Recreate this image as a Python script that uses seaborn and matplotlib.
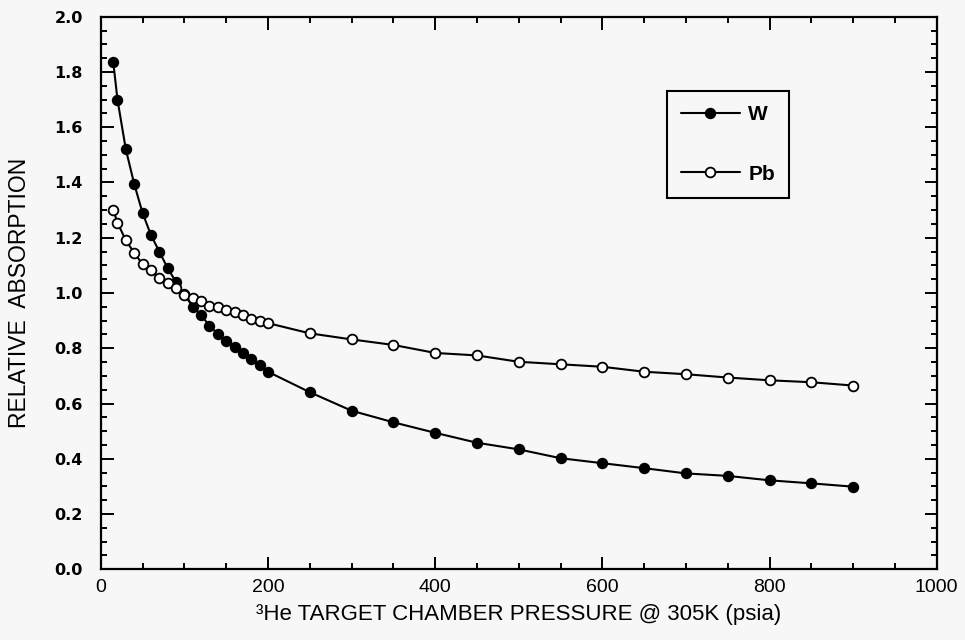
import numpy as np
import pandas as pd
import seaborn as sns
import matplotlib.pyplot as plt
from matplotlib.ticker import MultipleLocator, FormatStrFormatter

# pressure (psia) at which both targets were measured
pressure = [15, 20, 30, 40, 50, 60, 70, 80, 90, 100, 110, 120, 130, 140, 150, 160, 170, 180, 190, 200,
            250, 300, 350, 400, 450, 500, 550, 600, 650, 700, 750, 800, 850, 900]

w_absorption = [1.835, 1.70, 1.52, 1.395, 1.29, 1.21, 1.15, 1.09, 1.04, 0.995, 0.95, 0.92, 0.882, 0.852,
                0.826, 0.806, 0.782, 0.76, 0.739, 0.715,
                0.641, 0.574, 0.532, 0.494, 0.458, 0.434, 0.402, 0.384, 0.366, 0.347, 0.338, 0.322, 0.311, 0.299]

pb_absorption = [1.30, 1.255, 1.19, 1.146, 1.104, 1.083, 1.053, 1.035, 1.017, 0.993, 0.982, 0.972, 0.953,
                 0.948, 0.938, 0.93, 0.92, 0.906, 0.90, 0.891,
                 0.854, 0.832, 0.812, 0.783, 0.774, 0.751, 0.742, 0.733, 0.715, 0.706, 0.694, 0.684, 0.677, 0.665]

df = pd.DataFrame({'pressure': pressure, 'W': w_absorption, 'Pb': pb_absorption})

sns.set_style('ticks')
plt.rcParams['font.family'] = ['Liberation Sans', 'DejaVu Sans']
plt.rcParams['text.color'] = 'black'
plt.rcParams['axes.labelcolor'] = 'black'
plt.rcParams['xtick.color'] = 'black'
plt.rcParams['ytick.color'] = 'black'
bg = '#f7f7f7'

fig = plt.figure(figsize=(9.65, 6.4), dpi=100, facecolor=bg)
ax = fig.add_axes([0.1044, 0.1105, 0.8663, 0.8634], facecolor=bg)

sns.lineplot(data=df, x='pressure', y='W', ax=ax, color='black', linewidth=1.5,
             marker='o', markersize=7, markerfacecolor='black', markeredgecolor='black',
             markeredgewidth=1.2, label='W')
sns.lineplot(data=df, x='pressure', y='Pb', ax=ax, color='black', linewidth=1.5,
             marker='o', markersize=7, markerfacecolor='white', markeredgecolor='black',
             markeredgewidth=1.3, label='Pb')

ax.set_xlim(0, 1000)
ax.set_ylim(0, 2.0)
ax.xaxis.set_major_locator(MultipleLocator(200))
ax.xaxis.set_minor_locator(MultipleLocator(50))
ax.yaxis.set_major_locator(MultipleLocator(0.2))
ax.yaxis.set_minor_locator(MultipleLocator(0.05))
ax.yaxis.set_major_formatter(FormatStrFormatter('%.1f'))

ax.tick_params(which='both', direction='in', top=True, right=True, width=1.4, color='black')
ax.tick_params(which='major', length=9)
ax.tick_params(which='minor', length=4.5)
ax.tick_params(axis='x', which='major', labelsize=14, pad=7)
ax.tick_params(axis='y', which='major', labelsize=11.5, pad=13)
for lab in ax.get_yticklabels():
    lab.set_family('DejaVu Sans')
    lab.set_fontweight('bold')

for side in ax.spines.values():
    side.set_linewidth(1.6)
    side.set_color('black')

ax.set_xlabel('\u00b3He TARGET CHAMBER PRESSURE @ 305K (psia)', fontsize=16, labelpad=6)
ax.set_ylabel('RELATIVE  ABSORPTION', fontsize=16.5)
ax.yaxis.set_label_coords(-0.084, 0.5)

leg = ax.legend(loc='upper right', bbox_to_anchor=(0.8233, 0.8655), borderaxespad=0,
                frameon=True, fancybox=False, edgecolor='black', facecolor=bg, framealpha=1,
                handlelength=2.85, handletextpad=0.4, labelspacing=1.95, borderpad=0.67,
                prop={'size': 15, 'weight': 'bold'})
leg.get_frame().set_linewidth(1.5)

fig.savefig('out.png', dpi=100, facecolor=bg)
